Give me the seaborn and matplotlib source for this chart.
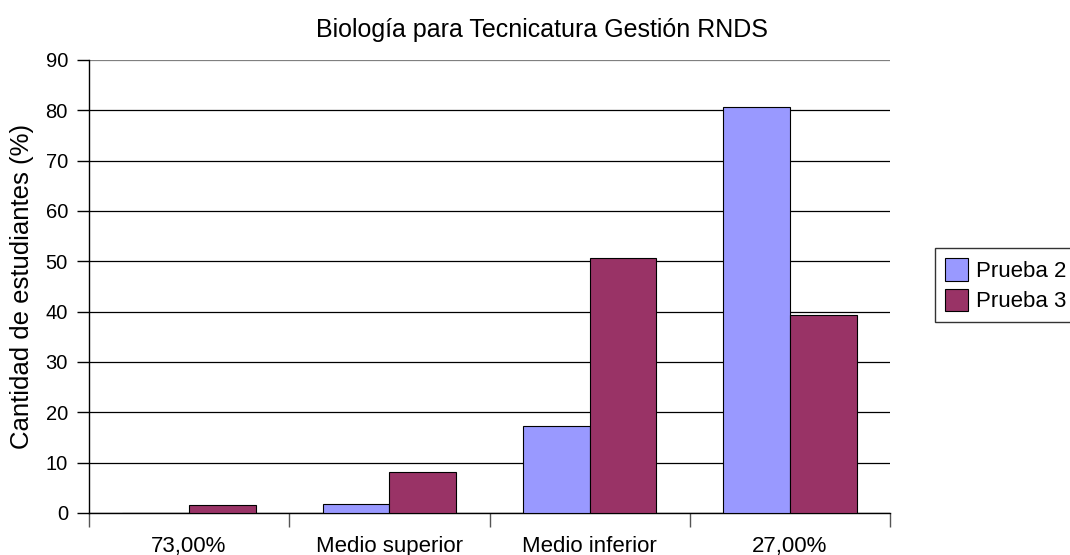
import pandas as pd
import numpy as np
import matplotlib
matplotlib.use('Agg')
import matplotlib.pyplot as plt
import seaborn as sns

# data
categorias = ['73,00%', 'Medio superior', 'Medio inferior', '27,00%']
prueba_2 = [0.0, 1.8, 17.3, 80.7]
prueba_3 = [1.6, 8.2, 50.7, 39.4]
series = ['Prueba 2', 'Prueba 3']
colores = ['#9999FF', '#993366']

df = pd.DataFrame({
    'categoria': categorias * 2,
    'valor': prueba_2 + prueba_3,
    'serie': [series[0]] * 4 + [series[1]] * 4,
})

sns.set_style('white')
plt.rcParams['font.family'] = ['Liberation Sans', 'DejaVu Sans']
plt.rcParams['text.color'] = 'black'
plt.rcParams['xtick.color'] = 'black'
plt.rcParams['ytick.color'] = 'black'
plt.rcParams['axes.labelcolor'] = 'black'

fig = plt.figure(figsize=(10.7, 5.55), dpi=100)
ax = fig.add_axes([0.083, 0.076, 0.749, 0.816])

sns.barplot(
    data=df, x='categoria', y='valor', hue='serie',
    palette=colores, saturation=1, width=2/3, edgecolor='black', linewidth=0.8,
    ax=ax, zorder=3
)

ax.set_ylim(0, 90)
ax.set_xlim(-0.5, 3.5)
ax.set_yticks(range(0, 91, 10))
ax.yaxis.grid(True, color='black', linewidth=0.9, zorder=0)
ax.set_axisbelow(True)
ax.get_ygridlines()[-1].set_color('#808080')

# x ticks between categories
ax.set_xticks(np.arange(-0.5, 4.0, 1.0), minor=True)
ax.tick_params(axis='x', which='minor', length=10, width=1, color='#555555', direction='out', bottom=True)
ax.tick_params(axis='x', which='major', length=0, labelsize=16, pad=17)
ax.tick_params(axis='y', length=9, width=1, color='black', direction='out', left=True, labelsize=14.5, pad=6)

for s in ['top', 'right']:
    ax.spines[s].set_visible(False)
ax.spines['left'].set_color('black')
ax.spines['bottom'].set_color('black')
ax.spines['left'].set_linewidth(1)
ax.spines['bottom'].set_linewidth(1)

ax.set_xlabel('')
ax.set_ylabel('Cantidad de estudiantes (%)', fontsize=18.5, labelpad=8)

fig.text(0.507, 0.946, 'Biología para Tecnicatura Gestión RNDS', ha='center', va='center', fontsize=18)

leg = ax.legend(
    loc='center left', bbox_to_anchor=(0.8735, 0.486), bbox_transform=fig.transFigure,
    fontsize=16, frameon=True, fancybox=False, edgecolor='black',
    handlelength=1.05, handleheight=1.2, handletextpad=0.35, borderpad=0.45, labelspacing=0.3,
    borderaxespad=0
)
leg.get_frame().set_linewidth(1)

fig.savefig('out.png', dpi=100)
